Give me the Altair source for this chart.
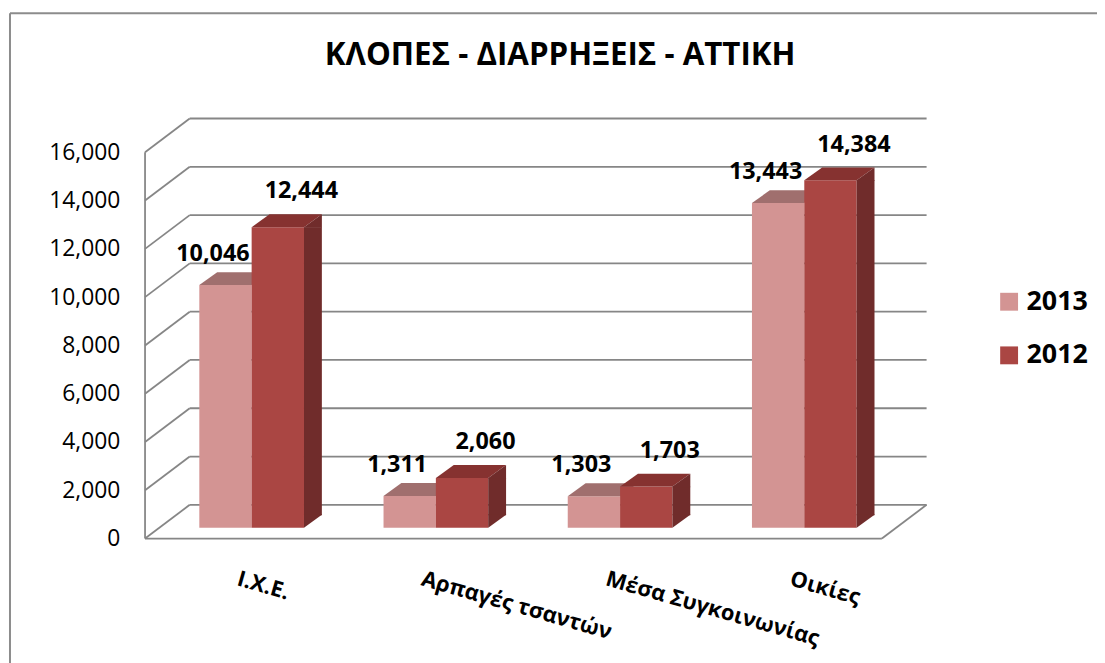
import altair as alt
import pandas as pd

# ---------------- data ----------------
categories = ["Ι.Χ.Ε.", "Αρπαγές τσαντών", "Μέσα Συγκοινωνίας", "Οικίες"]
series = ["2013", "2012"]
values_2013 = [10046, 1311, 1303, 13443]
values_2012 = [12444, 2060, 1703, 14384]
y_ticks = [0, 2000, 4000, 6000, 8000, 10000, 12000, 14000, 16000]
title_text = "ΚΛΟΠΕΣ - ΔΙΑΡΡΗΞΕΙΣ - ΑΤΤΙΚΗ"

rows = []
for c, v in zip(categories, values_2013):
    rows.append({"category": c, "series": "2013", "value": v})
for c, v in zip(categories, values_2012):
    rows.append({"category": c, "series": "2012", "value": v})
df = pd.DataFrame(rows)
d13 = df[df.series == "2013"]
d12 = df[df.series == "2012"]
ticks_df = pd.DataFrame({"value": y_ticks})
zero_df = pd.DataFrame({"value": [0]})
top_df = pd.DataFrame({"value": [16000]})
title_df = pd.DataFrame({"title": [title_text]})

# ---------------- geometry / style ----------------
W, H = 742, 389
BW = 52.7          # bar width
DX, DY = 18, 13    # bar depth projection
FX, FY = -14.6, 11   # front plane offset from bar plane
BX, BY = 30.4, -23   # back wall offset from bar plane
FONT = "Open Sans"
GRID = "#868686"
C13, C13_TOP = "#D39493", "#A06F6E"
C12, C12_TOP, C12_SIDE = "#AA4643", "#863230", "#702C2B"

xs = alt.Scale(domain=categories, paddingInner=0, paddingOuter=0)
ys = alt.Scale(domain=[0, 16000], nice=False, zero=True)

y_axis = alt.Axis(values=y_ticks, format=",.0f", ticks=False, tickSize=0, domain=False,
                  grid=False, labelPadding=40, labelOffset=FY, labelFontSize=23,
                  labelFont=FONT, labelColor="black", title=None)
x_axis = alt.Axis(title=None, ticks=False, tickSize=0, domain=False, labelAngle=16,
                  labelAlign="left", labelBaseline="top", labelOffset=-11,
                  labelPadding=41, labelFontSize=22, labelFontWeight="bold", labelLimit=0,
                  labelFont=FONT, labelColor="black")

X = alt.X("category:N", scale=xs, axis=x_axis, sort=categories)
Y = alt.Y("value:Q", scale=ys, axis=y_axis)

# gridlines: left wall diagonals
diag = alt.Chart(ticks_df).mark_rule(color=GRID, strokeWidth=1.8, yOffset=FY, y2Offset=BY).encode(
    y=Y, y2="value:Q", x=alt.value(FX), x2=alt.value(BX))

# back wall horizontals
back = alt.Chart(ticks_df).mark_rule(color=GRID, strokeWidth=1.8, yOffset=BY).encode(
    y=Y, x=alt.value(BX), x2=alt.value(W + BX))

floor_right = alt.Chart(zero_df).mark_rule(color=GRID, strokeWidth=1.8, yOffset=BY, y2Offset=FY).encode(
    y=Y, y2="value:Q", x=alt.value(W + BX), x2=alt.value(W + FX))

floor_front = alt.Chart(zero_df).mark_rule(color=GRID, strokeWidth=1.8, yOffset=FY).encode(
    y=Y, x=alt.value(FX), x2=alt.value(W + FX))

axis_front = alt.Chart(top_df).mark_rule(color=GRID, strokeWidth=1.8, yOffset=FY, y2Offset=FY).encode(
    y=Y, y2=alt.datum(0), x=alt.value(FX))

# outer chart border (top & left visible)
border_left = alt.Chart(zero_df).mark_rule(color="#8c8c8c", strokeWidth=2).encode(
    x=alt.value(-150.6), y=alt.value(-129), y2=alt.value(560))
border_top = alt.Chart(zero_df).mark_rule(color="#8c8c8c", strokeWidth=2).encode(
    y=alt.value(-129), x=alt.value(-150.6), x2=alt.value(960))

color = alt.Color("series:N", scale=alt.Scale(domain=series, range=[C13, C12]),
                  legend=alt.Legend(title=None, orient="none", legendX=842, legendY=148,
                                    symbolType="square", symbolSize=324, symbolStrokeWidth=0,
                                    labelFontSize=27, labelFontWeight="bold", labelFont=FONT,
                                    labelColor="black", rowPadding=26, labelOffset=4, padding=0))

front13 = alt.Chart(d13).mark_bar(width=BW, xOffset=-BW / 2).encode(
    x=X, y=Y, y2=alt.datum(0), color=color)

top13 = alt.Chart(d13).mark_point(
    shape=f"M {-BW} 0 L 0 0 L {DX} {-DY} L {DX - BW} {-DY} Z",
    size=4, filled=True, opacity=1, strokeWidth=0, color=C13_TOP).encode(x=X, y=Y)

front12 = alt.Chart(d12).mark_bar(width=BW, xOffset=BW / 2).encode(
    x=X, y=Y, y2=alt.datum(0), color=color)

top12 = alt.Chart(d12).mark_point(
    shape=f"M 0 0 L {BW} 0 L {BW + DX} {-DY} L {DX} {-DY} Z",
    size=4, filled=True, opacity=1, strokeWidth=0, color=C12_TOP).encode(x=X, y=Y)

side12 = alt.Chart(d12).mark_bar(width=DX, xOffset=BW + DX / 2, y2Offset=-DY + 0.5, color=C12_SIDE).encode(
    x=X, y=Y, y2=alt.datum(0))

side12_top = alt.Chart(d12).mark_point(
    shape=f"M {BW} 0.6 L {BW} 0 L {BW + DX} {-DY} L {BW + DX} 0.6 Z",
    size=4, filled=True, opacity=1, strokeWidth=0, color=C12_SIDE).encode(x=X, y=Y)

side12_bot = alt.Chart(d12).mark_point(
    shape=f"M {BW} {-DY - 0.6} L {BW + DX} {-DY - 0.6} L {BW + DX} {-DY} L {BW} 0 Z",
    size=4, filled=True, opacity=1, strokeWidth=0, color=C12_SIDE).encode(
    x=X, y=alt.datum(0))

lab13 = alt.Chart(d13).mark_text(dx=-39, dy=-31, fontSize=23.5, fontWeight="bold", font=FONT,
                                 color="black", baseline="middle", align="center").encode(
    x=X, y=Y, text=alt.Text("value:Q", format=","))
lab12 = alt.Chart(d12).mark_text(dx=50, dy=-36, fontSize=23.5, fontWeight="bold", font=FONT,
                                 color="black", baseline="middle", align="center").encode(
    x=X, y=Y, text=alt.Text("value:Q", format=","))

title = alt.Chart(title_df).mark_text(fontSize=31.5, fontWeight="bold", font=FONT, color="black",
                                      align="center", baseline="middle").encode(
    text="title:N", x=alt.value(403.4), y=alt.value(-85.5))

chart = alt.layer(
    border_left, border_top,
    diag, back, floor_right, floor_front, axis_front,
    front13, top13, front12, top12, side12, side12_top, side12_bot,
    lab13, lab12, title,
).properties(
    width=W, height=H,
    autosize=alt.AutoSizeParams(type="none"),
    padding={"left": 152.6, "top": 132, "right": 202, "bottom": 134},
    background="white",
).configure_view(stroke=None)

chart.save("out.html", embed_options={"renderer": "svg", "actions": False})
